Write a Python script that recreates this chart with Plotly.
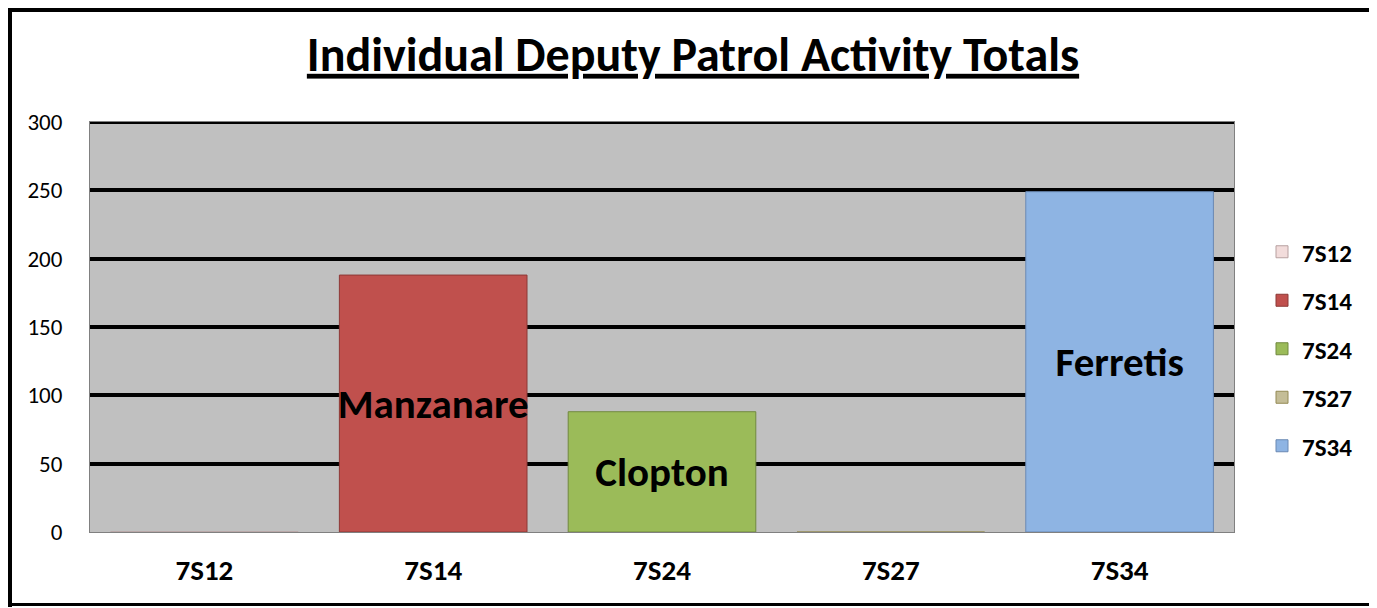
import plotly.graph_objects as go

categories = ["7S12", "7S14", "7S24", "7S27", "7S34"]
totals = [0, 188, 88, 0, 249]
deputies = ["", "Manzanare", "Clopton", "", "Ferretis"]
colors = ["#F2DCDB", "#C0504D", "#9BBB59", "#C4BD97", "#8EB4E3"]
outlines = ["#B7A0A0", "#8C3836", "#71893F", "#948A54", "#6A89B3"]
y_ticks = [0, 50, 100, 150, 200, 250, 300]
title_text = "Individual Deputy Patrol Activity Totals"

FONT = "Calibri, Carlito, Lato, sans-serif"
OFF = 8                      # page body offset
W, H = 1377 - OFF, 608 - OFF
ML, MR, MT, MB = 90 - OFF, 143, 122 - OFF, 76

fig = go.Figure()
for cat, val, lab, col, oc in zip(categories, totals, deputies, colors, outlines):
    fig.add_trace(go.Bar(
        x=[cat], y=[val], name=cat, legendgroup=cat, text=[lab],
        textposition="inside", insidetextanchor="middle", constraintext="none",
        textangle=0,
        textfont=dict(family=FONT, size=41, color="black", weight="bold"),
        marker=dict(color=col, line=dict(color=oc, width=1)),
        width=0.82,
    ))

pw, ph = W - ML - MR, H - MT - MB
def px_x(p): return (p - OFF - ML) / pw
def px_y(p): return 1 - (p - OFF - MT) / ph

fig.update_layout(
    width=W, height=H,
    margin=dict(l=ML, r=MR, t=MT, b=MB),
    paper_bgcolor="white", plot_bgcolor="#C0C0C0",
    barmode="overlay",
    uniformtext=dict(mode=False),
    title=dict(text="<u>" + title_text + "</u>",
               x=(693 - OFF) / W, xanchor="center", y=1 - (54 - OFF) / H, yanchor="middle",
               font=dict(family=FONT, size=48, color="black", weight="bold")),
    font=dict(family=FONT, color="black"),
    showlegend=True,
    legend=dict(x=px_x(1262), xanchor="left", y=px_y(229), yanchor="top",
                font=dict(family=FONT, size=25, color="black", weight="bold"),
                tracegroupgap=13, itemwidth=30, bgcolor="rgba(0,0,0,0)",
                traceorder="grouped"),
    xaxis=dict(categoryorder="array", categoryarray=categories,
               tickfont=dict(family=FONT, size=29, color="black", weight="bold"),
               showline=True, linecolor="#808080", linewidth=1, mirror=True,
               ticks="", ticklabelstandoff=12),
    yaxis=dict(range=[y_ticks[0], y_ticks[-1]], tickvals=y_ticks, ticks="",
               tickfont=dict(family=FONT, size=23, color="black"),
               showgrid=True, gridcolor="black", gridwidth=4,
               showline=True, linecolor="#808080", linewidth=1, mirror=True,
               zeroline=False, ticklabelstandoff=22),
)

# top gridline (hidden by plotly at the axis edge)
fig.add_shape(type="line", xref="paper", yref="y", x0=0, x1=1,
              y0=y_ticks[-1], y1=y_ticks[-1], line=dict(color="black", width=4), layer="above")

# outer black frame around the whole chart
fig.add_shape(type="line", xref="paper", yref="paper", x0=px_x(8), x1=px_x(8),
              y0=px_y(4), y1=px_y(607), line=dict(color="black", width=8), layer="above")
fig.add_shape(type="line", xref="paper", yref="paper", x0=px_x(4), x1=px_x(1377),
              y0=px_y(8.5), y1=px_y(8.5), line=dict(color="black", width=7), layer="above")
fig.add_shape(type="line", xref="paper", yref="paper", x0=px_x(1375), x1=px_x(1375),
              y0=px_y(5), y1=px_y(607), line=dict(color="black", width=4), layer="above")
fig.add_shape(type="line", xref="paper", yref="paper", x0=px_x(4), x1=px_x(1377),
              y0=px_y(604.5), y1=px_y(604.5), line=dict(color="black", width=3), layer="above")

fig.write_html("out.html")
